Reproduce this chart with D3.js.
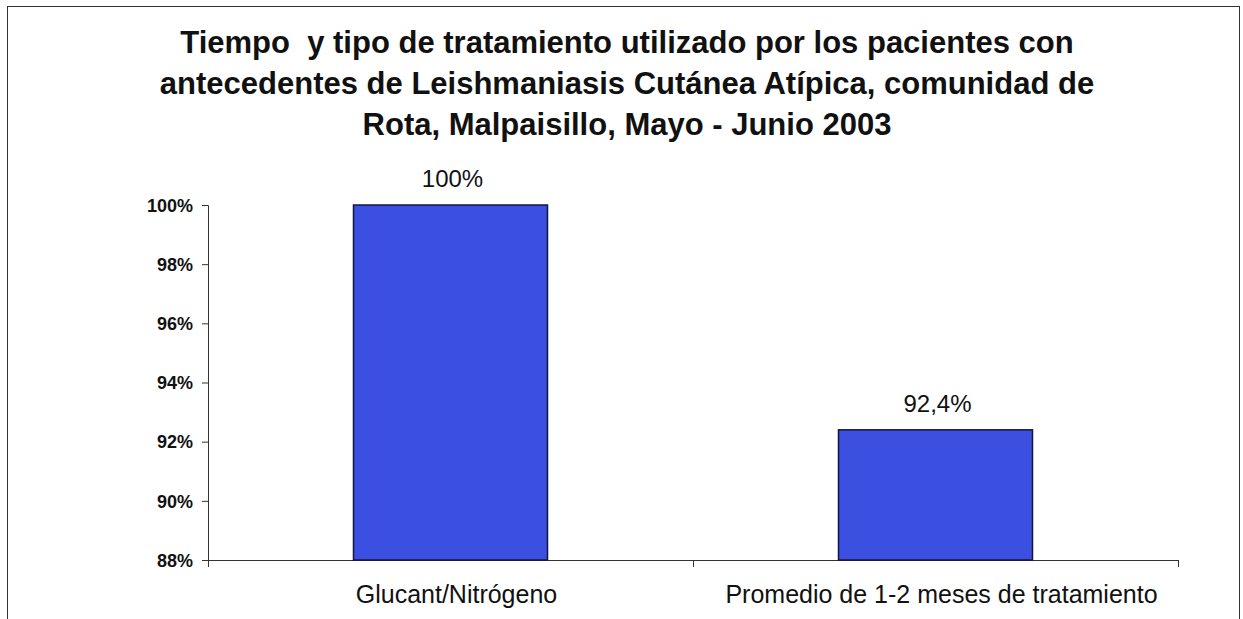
<!DOCTYPE html>
<html>
<head>
<meta charset="utf-8">
<script src="https://cdn.jsdelivr.net/npm/d3@7"></script>
<style>
  body { margin: 0; background: #fff; overflow: hidden; }
  svg { display: block; }
  svg text { font-family: Arial, "Liberation Sans", sans-serif; fill: #111; }
</style>
</head>
<body>
<script>
const categories = ["Glucant/Nitrógeno", "Promedio de 1-2 meses de tratamiento"];
const values = [100, 92.4];
const valueLabels = ["100%", "92,4%"];
const yTicks = [88, 90, 92, 94, 96, 98, 100];
const titleLines = [
    "Tiempo  y tipo de tratamiento utilizado por los pacientes con",
    "antecedentes de Leishmaniasis Cutánea Atípica, comunidad de",
    "Rota, Malpaisillo, Mayo - Junio 2003"
];

const width = 1243, height = 619;
const plotLeft = 208, plotRight = 1178, plotTop = 205, plotBottom = 560;

const svg = d3.select("body").append("svg")
    .attr("width", width)
    .attr("height", height);

svg.append("rect")
    .attr("x", 7.5).attr("y", 6.5)
    .attr("width", 1232).attr("height", 640)
    .style("fill", "#fff")
    .style("stroke", "#333")
    .style("stroke-width", 1);

svg.selectAll(".title")
    .data(titleLines)
    .enter()
    .append("text")
    .attr("class", "title")
    .attr("x", 627)
    .attr("y", (d, i) => 53 + i * 41)
    .attr("text-anchor", "middle")
    .style("font-size", "31px")
    .style("font-weight", "bold")
    .style("white-space", "pre")
    .text(d => d);

const xScale = d3.scaleBand()
    .domain(categories)
    .range([plotLeft, plotRight])
    .paddingInner(0.6)
    .paddingOuter(0.3);

const yScale = d3.scaleLinear()
    .domain([88, 100])
    .range([plotBottom, plotTop]);

const yAxis = d3.axisLeft(yScale)
    .tickValues(yTicks)
    .tickSize(6)
    .tickFormat(d => d + "%");

const yG = svg.append("g")
    .attr("transform", "translate(" + plotLeft + ",0)")
    .call(yAxis);
yG.selectAll("text")
    .attr("x", -15)
    .attr("dy", "0.35em")
    .style("font-size", "18px")
    .style("font-weight", "bold");
yG.selectAll("line, path").style("stroke", "#333");

// x axis, ticks sit between the categories
const xG = svg.append("g");
xG.append("line")
    .attr("x1", plotLeft).attr("x2", plotRight)
    .attr("y1", plotBottom + 0.5).attr("y2", plotBottom + 0.5)
    .style("stroke", "#333");
const boundaries = d3.range(categories.length + 1)
    .map(i => plotLeft + i * (plotRight - plotLeft) / categories.length);
xG.selectAll(".xtick")
    .data(boundaries)
    .enter()
    .append("line")
    .attr("x1", d => d + 0.5).attr("x2", d => d + 0.5)
    .attr("y1", plotBottom).attr("y2", plotBottom + 7)
    .style("stroke", "#333");

svg.selectAll(".cat")
    .data(categories)
    .enter()
    .append("text")
    .attr("x", d => xScale(d) + xScale.bandwidth() / 2 + 6)
    .attr("y", 603)
    .attr("text-anchor", "middle")
    .style("font-size", "25px")
    .text(d => d);

svg.selectAll(".bar")
    .data(values)
    .enter()
    .append("rect")
    .attr("x", (d, i) => xScale(categories[i]))
    .attr("y", d => yScale(d))
    .attr("width", xScale.bandwidth())
    .attr("height", d => plotBottom - yScale(d))
    .style("fill", "#3b4fe0")
    .style("stroke", "#15163f")
    .style("stroke-width", 1.5);

svg.selectAll(".vlabel")
    .data(values)
    .enter()
    .append("text")
    .attr("x", (d, i) => xScale(categories[i]) + xScale.bandwidth() / 2 + 2)
    .attr("y", d => yScale(d) - 18)
    .attr("text-anchor", "middle")
    .style("font-size", "24px")
    .text((d, i) => valueLabels[i]);
</script>
</body>
</html>
